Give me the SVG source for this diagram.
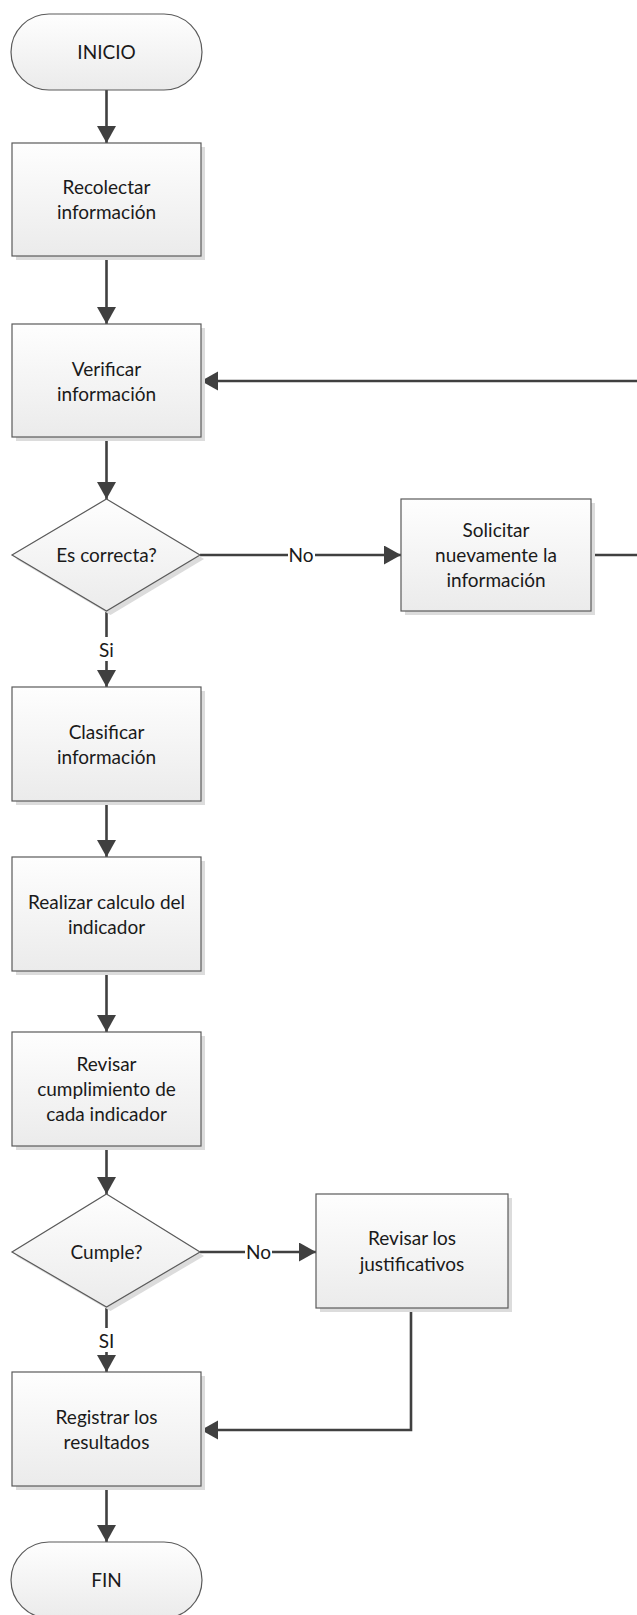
<svg xmlns="http://www.w3.org/2000/svg" width="637" height="1615" viewBox="0 0 637 1615">
<defs>
<linearGradient id="g" x1="0" y1="0" x2="0" y2="1">
<stop offset="0" stop-color="#fefefe"/>
<stop offset="1" stop-color="#ebebeb"/>
</linearGradient>
<marker id="arr" markerUnits="userSpaceOnUse" markerWidth="18" markerHeight="20" refX="17" refY="9.5" orient="auto">
<path d="M0,0 L17,9.5 L0,19 z" fill="#404040"/>
</marker>
<style>
.box{fill:url(#g);stroke:#5a5a5a;stroke-width:1.2}
.sh{fill:#dcdcdc}
.t{font-family:Lato,"Open Sans","Liberation Sans",sans-serif;font-size:19px;fill:#1a1a1a;text-anchor:middle}
.c{fill:none;stroke:#404040;stroke-width:2.6}
.ca{fill:none;stroke:#404040;stroke-width:2.6;marker-end:url(#arr)}
.lb{fill:#ffffff}
</style>
</defs>
<rect width="637" height="1615" fill="#ffffff"/>

<g id="connectors">
<path class="ca" d="M106.5,90 V143"/>
<path class="ca" d="M106.5,256 V324"/>
<path class="ca" d="M106.5,437 V499"/>
<path class="ca" d="M200,555 H401"/>
<path class="ca" d="M591,555 H640 V381 H201"/>
<path class="ca" d="M106.5,611 V687"/>
<path class="ca" d="M106.5,801 V857"/>
<path class="ca" d="M106.5,971 V1032"/>
<path class="ca" d="M106.5,1146 V1194"/>
<path class="ca" d="M200,1252 H316"/>
<path class="ca" d="M106.5,1307 V1372"/>
<path class="ca" d="M411,1308 V1430 H201"/>
<path class="ca" d="M106.5,1486 V1542"/>
<rect class="lb" x="288" y="544" width="27" height="22"/>
<text class="t" x="301" y="562">No</text>
<rect class="lb" x="245" y="1241" width="27" height="22"/>
<text class="t" x="258.5" y="1259">No</text>
<rect class="lb" x="96" y="637" width="21" height="24"/>
<text class="t" x="106.5" y="657">Si</text>
<rect class="lb" x="96" y="1328" width="21" height="24"/>
<text class="t" x="106.5" y="1348">SI</text>
</g>

<g id="inicio">
<rect class="box" x="11" y="14" width="191" height="76" rx="38" ry="38"/>
<text class="t" x="106.5" y="59">INICIO</text>
</g>

<g id="recolectar">
<rect class="sh" x="16" y="147" width="189" height="113"/>
<rect class="box" x="12" y="143" width="189" height="113"/>
<text class="t" x="106.5" y="194">Recolectar</text>
<text class="t" x="106.5" y="219">información</text>
</g>

<g id="verificar">
<rect class="sh" x="16" y="328" width="189" height="113"/>
<rect class="box" x="12" y="324" width="189" height="113"/>
<text class="t" x="106.5" y="376">Verificar</text>
<text class="t" x="106.5" y="401">información</text>
</g>

<g id="es-correcta">
<polygon class="sh" points="110.5,503 204,559 110.5,615 16,559"/>
<polygon class="box" points="106.5,499 200,555 106.5,611 12,555"/>
<text class="t" x="106.5" y="562">Es correcta?</text>
</g>

<g id="solicitar">
<rect class="sh" x="405" y="503" width="190" height="112"/>
<rect class="box" x="401" y="499" width="190" height="112"/>
<text class="t" x="496" y="537">Solicitar</text>
<text class="t" x="496" y="562">nuevamente la</text>
<text class="t" x="496" y="587">información</text>
</g>

<g id="clasificar">
<rect class="sh" x="16" y="691" width="189" height="114"/>
<rect class="box" x="12" y="687" width="189" height="114"/>
<text class="t" x="106.5" y="739">Clasificar</text>
<text class="t" x="106.5" y="764">información</text>
</g>

<g id="realizar">
<rect class="sh" x="16" y="861" width="189" height="114"/>
<rect class="box" x="12" y="857" width="189" height="114"/>
<text class="t" x="106.5" y="909">Realizar calculo del</text>
<text class="t" x="106.5" y="934">indicador</text>
</g>

<g id="revisar-cumplimiento">
<rect class="sh" x="16" y="1036" width="189" height="114"/>
<rect class="box" x="12" y="1032" width="189" height="114"/>
<text class="t" x="106.5" y="1071">Revisar</text>
<text class="t" x="106.5" y="1096">cumplimiento de</text>
<text class="t" x="106.5" y="1121">cada indicador</text>
</g>

<g id="cumple">
<polygon class="sh" points="110.5,1198 204,1256 110.5,1311 16,1256"/>
<polygon class="box" points="106.5,1194 200,1252 106.5,1307 12,1252"/>
<text class="t" x="106.5" y="1259">Cumple?</text>
</g>

<g id="revisar-justificativos">
<rect class="sh" x="320" y="1198" width="192" height="114"/>
<rect class="box" x="316" y="1194" width="192" height="114"/>
<text class="t" x="412" y="1245">Revisar los</text>
<text class="t" x="412" y="1271">justificativos</text>
</g>

<g id="registrar">
<rect class="sh" x="16" y="1376" width="189" height="114"/>
<rect class="box" x="12" y="1372" width="189" height="114"/>
<text class="t" x="106.5" y="1424">Registrar los</text>
<text class="t" x="106.5" y="1449">resultados</text>
</g>

<g id="fin">
<rect class="box" x="11" y="1542" width="191" height="76" rx="38" ry="38"/>
<text class="t" x="106.5" y="1587">FIN</text>
</g>
</svg>
